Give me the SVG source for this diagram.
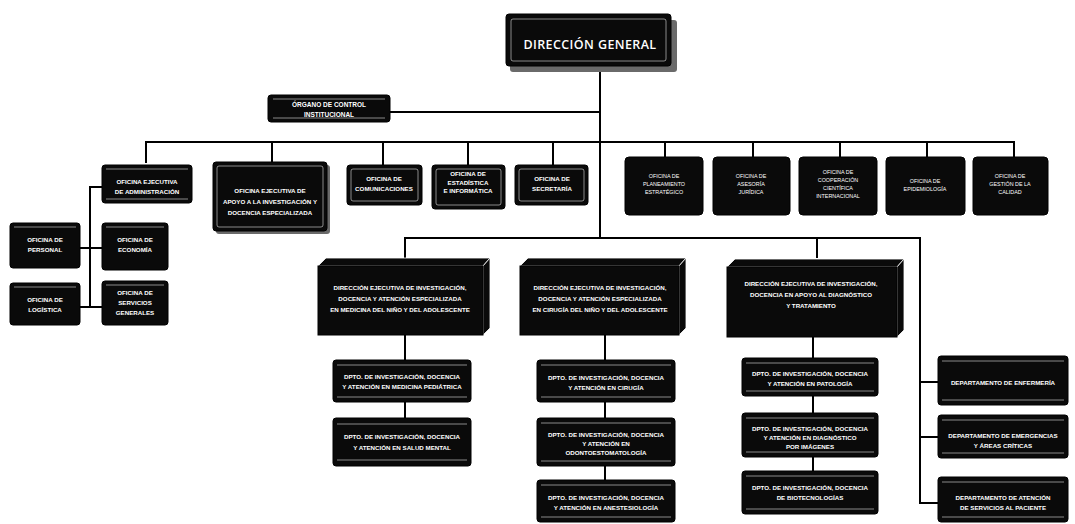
<svg xmlns="http://www.w3.org/2000/svg" width="1075" height="524" viewBox="0 0 1075 524">
<defs>
<style>
.bg{fill:#fff}
.ln{stroke:#000;stroke-width:2;fill:none}
.box{fill:#0a0a0a;stroke:#000;stroke-width:1}
.shadow{fill:#6a6a6a}
.inner{fill:none;stroke:#fff;stroke-width:0.7;opacity:0.75}
.face{fill:#0a0a0a;stroke:#fff;stroke-width:0.8}
.t{font-family:"Liberation Sans",Arial,sans-serif;font-weight:bold;fill:#fff;text-anchor:middle;font-size:6.2px}
.ts{font-family:"Liberation Sans",Arial,sans-serif;font-weight:normal;fill:#fff;text-anchor:middle;font-size:5.4px}
.tg{font-family:"Open Sans","Liberation Sans",sans-serif;font-weight:600;fill:#fff;text-anchor:middle;font-size:12.5px;letter-spacing:0.4px}
</style>
</defs>
<rect class="bg" x="0" y="0" width="1075" height="524"/>

<g id="connectors">
<path class="ln" d="M600,68 V238"/>
<path class="ln" d="M390,112 H600"/>
<path class="ln" d="M146,163 V142 H1014 V157"/>
<path class="ln" d="M272,142 V162"/>
<path class="ln" d="M383,142 V165"/>
<path class="ln" d="M468,142 V165"/>
<path class="ln" d="M553,142 V165"/>
<path class="ln" d="M665,142 V157"/>
<path class="ln" d="M753,142 V157"/>
<path class="ln" d="M840,142 V157"/>
<path class="ln" d="M927,142 V157"/>
<path class="ln" d="M102,187 H90 V307"/>
<path class="ln" d="M80,248 H102"/>
<path class="ln" d="M80,307 H102"/>
<path class="ln" d="M405,258 V238 H920 V503 H938"/>
<path class="ln" d="M817,238 V258"/>
<path class="ln" d="M920,382 H938"/>
<path class="ln" d="M920,437 H938"/>
<path class="ln" d="M405,335 V418"/>
<path class="ln" d="M605,335 V480"/>
<path class="ln" d="M813,337 V471"/>
</g>

<g id="direccion-general">
<rect class="shadow" x="510" y="20" width="167" height="52" rx="3"/>
<rect class="box" x="506" y="14" width="165" height="52" rx="3"/>
<rect class="inner" x="511" y="19" width="155" height="42" rx="2"/>
<text class="tg" x="590" y="49">DIRECCIÓN GENERAL</text>
</g>

<g id="organo-control">
<rect class="box" x="268" y="95" width="122" height="27" rx="3"/>
<path class="inner" d="M273,99 H385 M273,118 H385"/>
<text class="t" x="329" y="107" style="font-size:6.5px">ÓRGANO DE CONTROL</text>
<text class="t" x="329" y="116.5" style="font-size:6.5px">INSTITUCIONAL</text>
</g>

<g id="of-administracion">
<rect class="box" x="102" y="165" width="90" height="38" rx="3"/>
<path class="inner" d="M106,169 H188 M106,199 H188"/>
<text class="t" x="147" y="184">OFICINA EJECUTIVA</text>
<text class="t" x="147" y="194">DE ADMINISTRACIÓN</text>
</g>

<g id="of-apoyo">
<rect class="shadow" x="216" y="165" width="114" height="69" rx="3"/>
<rect class="box" x="213" y="162" width="114" height="69" rx="3"/>
<rect class="inner" x="217" y="166" width="106" height="61" rx="2"/>
<text class="t" x="270" y="193">OFICINA EJECUTIVA DE</text>
<text class="t" x="270" y="204">APOYO A LA INVESTIGACIÓN Y</text>
<text class="t" x="270" y="215">DOCENCIA ESPECIALIZADA</text>
</g>

<g id="of-comunicaciones">
<rect class="box" x="347" y="165" width="75" height="40" rx="3"/>
<rect class="inner" x="351" y="169" width="67" height="32" rx="2"/>
<text class="t" x="384" y="181">OFICINA DE</text>
<text class="t" x="384" y="191">COMUNICACIONES</text>
</g>

<g id="of-estadistica">
<rect class="box" x="432" y="165" width="73" height="44" rx="3"/>
<rect class="inner" x="436" y="169" width="65" height="36" rx="2"/>
<text class="t" x="468" y="176">OFICINA DE</text>
<text class="t" x="468" y="184.5">ESTADÍSTICA</text>
<text class="t" x="468" y="193">E INFORMÁTICA</text>
</g>

<g id="of-secretaria">
<rect class="box" x="515" y="165" width="73" height="40" rx="3"/>
<rect class="inner" x="519" y="169" width="65" height="32" rx="2"/>
<text class="t" x="552" y="181">OFICINA DE</text>
<text class="t" x="552" y="191">SECRETARÍA</text>
</g>

<g id="of-planeamiento">
<rect class="box" x="625" y="157" width="78" height="58" rx="4"/>
<text class="ts" x="664" y="178">OFICINA DE</text>
<text class="ts" x="664" y="186">PLANEAMIENTO</text>
<text class="ts" x="664" y="194">ESTRATÉGICO</text>
</g>

<g id="of-asesoria">
<rect class="box" x="713" y="157" width="77" height="58" rx="4"/>
<text class="ts" x="751" y="178">OFICINA DE</text>
<text class="ts" x="751" y="186">ASESORÍA</text>
<text class="ts" x="751" y="194">JURÍDICA</text>
</g>

<g id="of-cooperacion">
<rect class="box" x="799" y="157" width="78" height="58" rx="4"/>
<text class="ts" x="838" y="174">OFICINA DE</text>
<text class="ts" x="838" y="182">COOPERACIÓN</text>
<text class="ts" x="838" y="190">CIENTÍFICA</text>
<text class="ts" x="838" y="198">INTERNACIONAL</text>
</g>

<g id="of-epidemiologia">
<rect class="box" x="886" y="157" width="79" height="58" rx="4"/>
<text class="ts" x="925" y="183">OFICINA DE</text>
<text class="ts" x="925" y="191">EPIDEMIOLOGÍA</text>
</g>

<g id="of-calidad">
<rect class="box" x="973" y="157" width="75" height="58" rx="4"/>
<text class="ts" x="1010" y="178">OFICINA DE</text>
<text class="ts" x="1010" y="186">GESTIÓN DE LA</text>
<text class="ts" x="1010" y="194">CALIDAD</text>
</g>

<g id="of-personal">
<rect class="box" x="10" y="223" width="70" height="45" rx="3"/>
<path class="inner" d="M14,227 H76"/>
<text class="t" x="45" y="242">OFICINA DE</text>
<text class="t" x="45" y="252">PERSONAL</text>
</g>

<g id="of-economia">
<rect class="box" x="102" y="223" width="66" height="47" rx="3"/>
<path class="inner" d="M106,227 H164"/>
<text class="t" x="135" y="242">OFICINA DE</text>
<text class="t" x="135" y="252">ECONOMÍA</text>
</g>

<g id="of-logistica">
<rect class="box" x="10" y="283" width="70" height="42" rx="3"/>
<path class="inner" d="M14,287 H76"/>
<text class="t" x="45" y="302">OFICINA DE</text>
<text class="t" x="45" y="312">LOGÍSTICA</text>
</g>

<g id="of-servicios">
<rect class="box" x="102" y="281" width="66" height="44" rx="3"/>
<path class="inner" d="M106,285 H164"/>
<text class="t" x="135" y="295">OFICINA DE</text>
<text class="t" x="135" y="305">SERVICIOS</text>
<text class="t" x="135" y="315">GENERALES</text>
</g>

<g id="dir-medicina">
<polygon class="face" points="318,266 326,258 490,258 483,266"/>
<polygon class="face" points="483,266 490,258 490,328 483,335"/>
<rect class="box" x="318" y="266" width="165" height="69"/>
<text class="t" x="400" y="290">DIRECCIÓN EJECUTIVA DE INVESTIGACIÓN,</text>
<text class="t" x="400" y="301">DOCENCIA Y ATENCIÓN ESPECIALIZADA</text>
<text class="t" x="400" y="312">EN MEDICINA DEL NIÑO Y DEL ADOLESCENTE</text>
</g>

<g id="dir-cirugia">
<polygon class="face" points="520,266 528,258 686,258 679,266"/>
<polygon class="face" points="679,266 686,258 686,328 679,335"/>
<rect class="box" x="520" y="266" width="159" height="69"/>
<text class="t" x="600" y="290">DIRECCIÓN EJECUTIVA DE INVESTIGACIÓN,</text>
<text class="t" x="600" y="301">DOCENCIA Y ATENCIÓN ESPECIALIZADA</text>
<text class="t" x="600" y="312">EN CIRUGÍA DEL NIÑO Y DEL ADOLESCENTE</text>
</g>

<g id="dir-diagnostico">
<polygon class="face" points="727,267 735,259 904,259 897,267"/>
<polygon class="face" points="897,267 904,259 904,330 897,337"/>
<rect class="box" x="727" y="267" width="170" height="70"/>
<text class="t" x="811" y="286">DIRECCIÓN EJECUTIVA DE INVESTIGACIÓN,</text>
<text class="t" x="811" y="297">DOCENCIA EN APOYO AL DIAGNÓSTICO</text>
<text class="t" x="811" y="308">Y TRATAMIENTO</text>
</g>

<g id="dpto-pediatrica">
<rect class="box" x="333" y="360" width="138" height="42" rx="3"/>
<path class="inner" d="M337,365 H467 M337,397 H467"/>
<text class="t" x="402" y="379">DPTO. DE INVESTIGACIÓN, DOCENCIA</text>
<text class="t" x="402" y="389">Y ATENCIÓN EN MEDICINA PEDIÁTRICA</text>
</g>

<g id="dpto-salud-mental">
<rect class="box" x="333" y="418" width="138" height="48" rx="3"/>
<path class="inner" d="M337,424 H467 M337,460 H467"/>
<text class="t" x="402" y="439">DPTO. DE INVESTIGACIÓN, DOCENCIA</text>
<text class="t" x="402" y="450">Y ATENCIÓN EN SALUD MENTAL</text>
</g>

<g id="dpto-cirugia">
<rect class="box" x="537" y="360" width="138" height="42" rx="3"/>
<path class="inner" d="M541,365 H671 M541,397 H671"/>
<text class="t" x="606" y="380">DPTO. DE INVESTIGACIÓN, DOCENCIA</text>
<text class="t" x="606" y="390">Y ATENCIÓN EN CIRUGÍA</text>
</g>

<g id="dpto-odonto">
<rect class="box" x="537" y="418" width="138" height="48" rx="3"/>
<path class="inner" d="M541,423 H671 M541,461 H671"/>
<text class="t" x="606" y="437">DPTO. DE INVESTIGACIÓN, DOCENCIA</text>
<text class="t" x="606" y="446">Y ATENCIÓN EN</text>
<text class="t" x="606" y="455">ODONTOESTOMATOLOGÍA</text>
</g>

<g id="dpto-anestesiologia">
<rect class="box" x="537" y="480" width="138" height="42" rx="3"/>
<path class="inner" d="M541,485 H671 M541,517 H671"/>
<text class="t" x="606" y="500">DPTO. DE INVESTIGACIÓN, DOCENCIA</text>
<text class="t" x="606" y="510">Y ATENCIÓN EN ANESTESIOLOGÍA</text>
</g>

<g id="dpto-patologia">
<rect class="box" x="742" y="358" width="136" height="38" rx="3"/>
<path class="inner" d="M746,363 H874 M746,391 H874"/>
<text class="t" x="810" y="376">DPTO. DE INVESTIGACIÓN, DOCENCIA</text>
<text class="t" x="810" y="386">Y ATENCIÓN EN PATOLOGÍA</text>
</g>

<g id="dpto-imagenes">
<rect class="box" x="742" y="413" width="136" height="44" rx="3"/>
<path class="inner" d="M746,418 H874 M746,452 H874"/>
<text class="t" x="810" y="431">DPTO. DE INVESTIGACIÓN, DOCENCIA</text>
<text class="t" x="810" y="440">Y ATENCIÓN EN DIAGNÓSTICO</text>
<text class="t" x="810" y="449">POR IMÁGENES</text>
</g>

<g id="dpto-biotecnologias">
<rect class="box" x="742" y="471" width="136" height="43" rx="3"/>
<path class="inner" d="M746,476 H874 M746,509 H874"/>
<text class="t" x="810" y="490">DPTO. DE INVESTIGACIÓN, DOCENCIA</text>
<text class="t" x="810" y="500">DE BIOTECNOLOGÍAS</text>
</g>

<g id="dep-enfermeria">
<rect class="box" x="938" y="356" width="130" height="49" rx="3"/>
<path class="inner" d="M942,361 H1064 M942,400 H1064"/>
<text class="t" x="1003" y="385">DEPARTAMENTO DE ENFERMERÍA</text>
</g>

<g id="dep-emergencias">
<rect class="box" x="938" y="415" width="130" height="43" rx="3"/>
<path class="inner" d="M942,420 H1064 M942,453 H1064"/>
<text class="t" x="1003" y="438">DEPARTAMENTO DE EMERGENCIAS</text>
<text class="t" x="1003" y="448">Y ÁREAS CRÍTICAS</text>
</g>

<g id="dep-atencion">
<rect class="box" x="938" y="477" width="130" height="45" rx="3"/>
<path class="inner" d="M942,482 H1064 M942,517 H1064"/>
<text class="t" x="1003" y="500">DEPARTAMENTO DE ATENCIÓN</text>
<text class="t" x="1003" y="510">DE SERVICIOS AL PACIENTE</text>
</g>
</svg>
